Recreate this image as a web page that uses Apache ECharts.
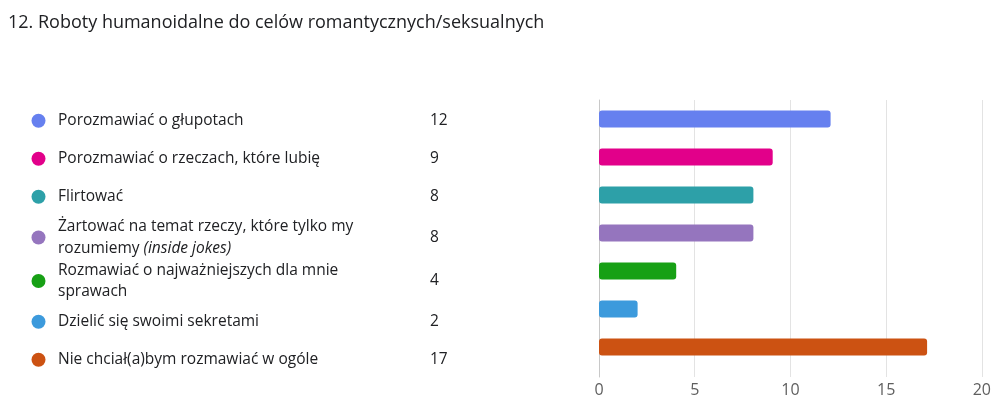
<!DOCTYPE html>
<html>
<head>
<meta charset="utf-8">
<script src="https://cdn.jsdelivr.net/npm/echarts@6/dist/echarts.min.js"></script>
<style>
html,body{margin:0;padding:0;background:#fff;}
#c{width:994px;height:402px;}
</style>
</head>
<body>
<div id="c"></div>
<script>
const titleText = '12. Roboty humanoidalne do celów romantycznych/seksualnych';
const categories = [
  'Porozmawiać o głupotach',
  'Porozmawiać o rzeczach, które lubię',
  'Flirtować',
  'Żartować na temat rzeczy, które tylko my\nrozumiemy (inside jokes)',
  'Rozmawiać o najważniejszych dla mnie\nsprawach',
  'Dzielić się swoimi sekretami',
  'Nie chciał(a)bym rozmawiać w ogóle'
];
const values = [12, 9, 8, 8, 4, 2, 17];
const xTicks = [0, 5, 10, 15, 20];
const palette = ['#6680EF', '#E2008A', '#2DA0A8', '#9575BE', '#17A015', '#3C9ADC', '#CC5212'];

const FONT = '"Open Sans", "Noto Sans", sans-serif';
const LFS = 15.5;
const chart = echarts.init(document.getElementById('c'), null, {renderer: 'canvas'});

const legendChildren = [];
let cy = 120.7;
categories.forEach((name, i) => {
  const lines = name.split('\n').length;
  const h = lines === 1 ? 38 : 43.5;
  if (i > 0) {
    const prevLines = categories[i - 1].split('\n').length;
    const ph = prevLines === 1 ? 38 : 43.5;
    cy += (ph + h) / 2;
  }
  legendChildren.push({
    type: 'circle', shape: {cx: 38.5, cy: cy, r: 7}, style: {fill: palette[i]}, silent: true
  });
  legendChildren.push({
    type: 'text', x: 58, y: cy,
    style: {
      text: name.replace('(inside jokes)', '{i|(inside jokes)}'),
      rich: {i: {fontStyle: 'italic', fontFamily: FONT, fontSize: LFS, fill: '#202124'}},
      fontFamily: FONT, fontSize: LFS, fill: '#202124', lineHeight: 21.5,
      verticalAlign: 'middle', align: 'left'
    }, silent: true
  });
  legendChildren.push({
    type: 'text', x: 430, y: cy,
    style: {text: String(values[i]), fontFamily: FONT, fontSize: LFS, fill: '#202124',
      verticalAlign: 'middle', align: 'left'}, silent: true
  });
});

chart.setOption({
  animation: false,
  backgroundColor: '#fff',
  title: {
    text: titleText, left: 3, top: 9,
    textStyle: {fontFamily: FONT, fontSize: 18, fontWeight: 'normal', color: '#202124'}
  },
  graphic: legendChildren,
  grid: [
    {left: 599, right: 9, top: 100, height: 266},
    {left: 599, right: 9, top: 100, bottom: 25}
  ],
  xAxis: [
    {gridIndex: 0, type: 'value', min: 0, max: 20, interval: 5, show: false},
    {gridIndex: 1, type: 'value', min: xTicks[0], max: xTicks[xTicks.length - 1], interval: 5,
      axisLine: {show: false}, axisTick: {show: false},
      splitLine: {show: true, lineStyle: {color: '#e3e3e3', width: 1}},
      axisLabel: {color: '#5f5f5f', fontFamily: FONT, fontSize: 16, margin: 5}}
  ],
  yAxis: [
    {gridIndex: 0, type: 'category', data: categories, inverse: true, show: false},
    {gridIndex: 1, type: 'value', min: 0, max: 1, axisLine: {show: true, lineStyle: {color: '#c8c8c8'}},
      axisTick: {show: false}, axisLabel: {show: false}, splitLine: {show: false}}
  ],
  series: [{
    type: 'bar', xAxisIndex: 0, yAxisIndex: 0, barWidth: 17,
    data: values.map((v, i) => ({value: v, itemStyle: {color: palette[i], borderRadius: 3}})),
    silent: true
  }]
});
</script>
</body>
</html>
